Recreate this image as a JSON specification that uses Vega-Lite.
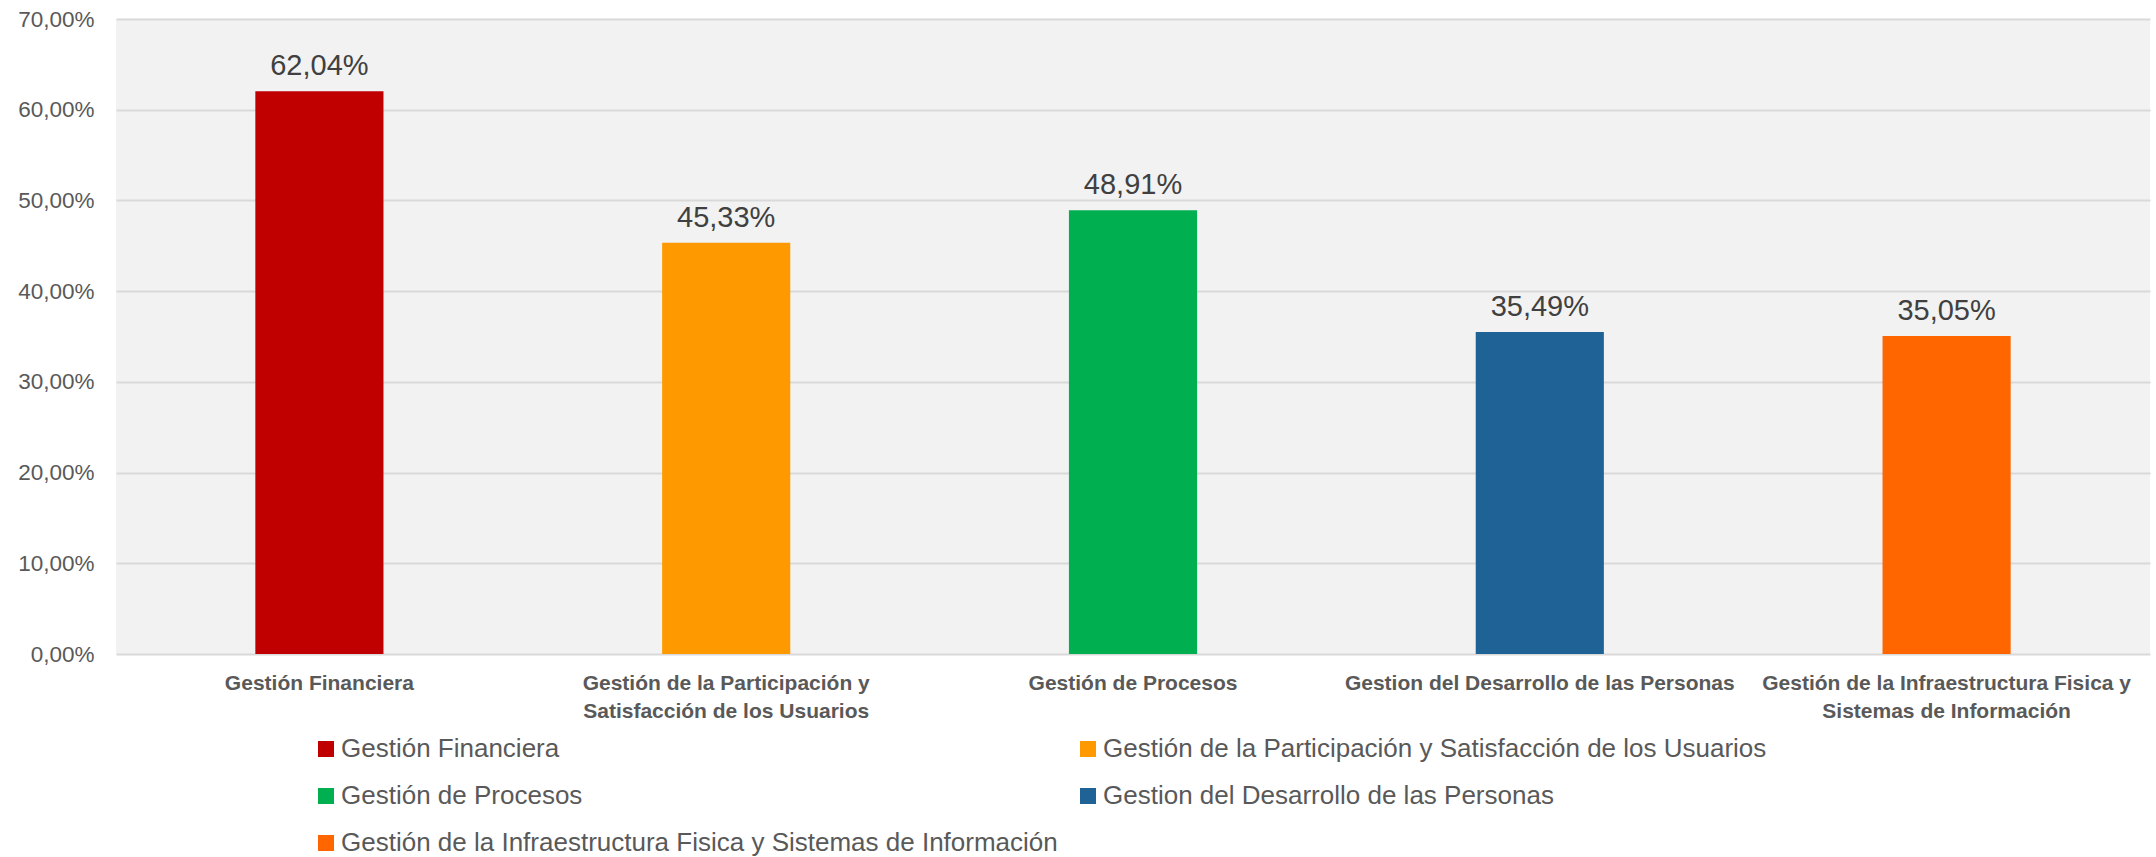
{
  "$schema": "https://vega.github.io/schema/vega-lite/v6.json",
  "width": 2034,
  "height": 635,
  "autosize": {"type": "none"},
  "padding": {"left": 116, "top": 19, "right": 6, "bottom": 203},
  "background": "#ffffff",
  "config": {
    "view": {"fill": "#f2f2f2", "stroke": null},
    "font": "Liberation Sans",
    "locale": {"number": {"decimal": ",", "thousands": ".", "grouping": [3], "currency": ["", " €"]}}
  },
  "data": {
    "values": [
      {"categoria": "Gestión Financiera", "valor": 0.6204},
      {"categoria": "Gestión de la Participación y Satisfacción de los Usuarios", "valor": 0.4533},
      {"categoria": "Gestión de Procesos", "valor": 0.4891},
      {"categoria": "Gestion del Desarrollo de las Personas", "valor": 0.3549},
      {"categoria": "Gestión de la Infraestructura Fisica y Sistemas de Información", "valor": 0.3505}
    ]
  },
  "encoding": {
    "x": {
      "field": "categoria",
      "type": "nominal",
      "sort": null,
      "title": null,
      "scale": {"paddingInner": 0.685, "paddingOuter": 0.3425},
      "axis": {
        "labelAngle": 0,
        "domain": false,
        "ticks": false,
        "tickSize": 0,
        "labelPadding": 18,
        "labelFont": "Liberation Sans",
        "labelFontWeight": "bold",
        "labelFontSize": 21,
        "labelColor": "#595959",
        "labelLimit": 0,
        "labelLineHeight": 28,
        "labelBaseline": "top",
        "labelExpr": "datum.value == 'Gestión de la Participación y Satisfacción de los Usuarios' ? ['Gestión de la Participación y', 'Satisfacción de los Usuarios'] : datum.value == 'Gestión de la Infraestructura Fisica y Sistemas de Información' ? ['Gestión de la Infraestructura Fisica y', 'Sistemas de Información'] : datum.label"
      }
    },
    "y": {
      "field": "valor",
      "type": "quantitative",
      "title": null,
      "scale": {"domain": [0, 0.7], "nice": false},
      "axis": {
        "values": [0, 0.1, 0.2, 0.3, 0.4, 0.5, 0.6, 0.7],
        "format": ".2%",
        "domain": false,
        "ticks": false,
        "tickSize": 0,
        "labelPadding": 22,
        "labelFontSize": 22.5,
        "labelColor": "#595959",
        "grid": true,
        "gridColor": "#d9d9d9",
        "gridWidth": 2
      }
    }
  },
  "layer": [
    {
      "mark": {"type": "bar"},
      "encoding": {
        "color": {
          "field": "categoria",
          "type": "nominal",
          "sort": null,
          "title": null,
          "scale": {
            "domain": [
              "Gestión Financiera",
              "Gestión de la Participación y Satisfacción de los Usuarios",
              "Gestión de Procesos",
              "Gestion del Desarrollo de las Personas",
              "Gestión de la Infraestructura Fisica y Sistemas de Información"
            ],
            "range": ["#c00000", "#ff9900", "#00b050", "#1f6396", "#ff6600"]
          },
          "legend": {
            "orient": "none",
            "legendX": 197,
            "legendY": 717,
            "direction": "horizontal",
            "columns": 2,
            "padding": 0,
            "symbolType": "square",
            "symbolSize": 256,
            "symbolStrokeWidth": 0,
            "labelFontSize": 26,
            "labelColor": "#595959",
            "labelOffset": 2,
            "labelLimit": 0,
            "rowPadding": 21,
            "columnPadding": 17
          }
        }
      }
    },
    {
      "mark": {"type": "text", "baseline": "alphabetic", "dy": -16, "fontSize": 29, "color": "#404040"},
      "encoding": {
        "text": {"field": "valor", "type": "quantitative", "format": ".2%"}
      }
    }
  ]
}
